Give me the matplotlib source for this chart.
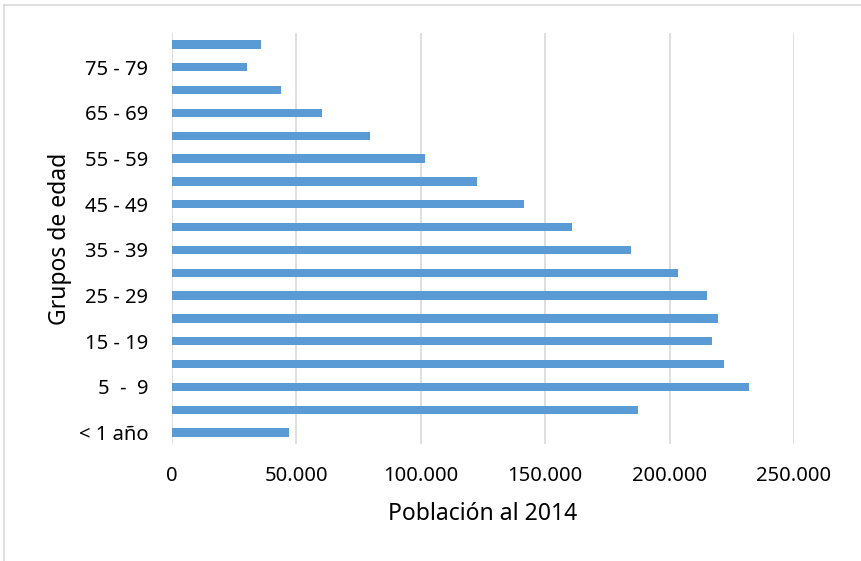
import matplotlib
matplotlib.use("Agg")
import matplotlib.pyplot as plt
from matplotlib.lines import Line2D

categories = ["< 1 año", "1 - 4", "5  -  9", "10 - 14", "15 - 19", "20 - 24",
              "25 - 29", "30 - 34", "35 - 39", "40 - 44", "45 - 49", "50 - 54",
              "55 - 59", "60 - 64", "65 - 69", "70 - 74", "75 - 79", "80 y más"]
poblacion = [47100, 187300, 231900, 221700, 217100, 219500,
             215000, 203200, 184300, 160900, 141600, 122600,
             101500, 79400, 60100, 43700, 30100, 35600]
x_ticks = [0, 50000, 100000, 150000, 200000, 250000]
x_tick_labels = ["0", "50.000", "100.000", "150.000", "200.000", "250.000"]

plt.rcParams['font.family'] = ['Noto Sans', 'DejaVu Sans']

W, H = 861, 561
fig = plt.figure(figsize=(W / 100, H / 100), dpi=100)
ax = fig.add_axes([172 / W, (H - 444) / H, (794 - 172) / W, (444 - 33) / H])

pos = list(range(len(categories)))
ax.barh(pos, poblacion, height=0.36, color="#5B9BD5", zorder=3)

ax.set_xlim(0, 250000)
ax.set_ylim(-0.5, len(categories) - 0.5)
ax.set_xticks(x_ticks)
ax.set_xticklabels(x_tick_labels, fontsize=14.5, color="#000000")
ax.set_yticks(pos)
ax.set_yticklabels([c if i % 2 == 0 else "" for i, c in enumerate(categories)],
                   fontsize=14.5, color="#000000")
ax.tick_params(axis="x", length=0, pad=16)
ax.tick_params(axis="y", length=0, pad=17)
ax.grid(axis="x", color="#D9D9D9", linewidth=1.2, zorder=0)
for s in ax.spines.values():
    s.set_visible(False)

ax.set_xlabel("Población al 2014", fontsize=16.5, labelpad=11)
ax.set_ylabel("Grupos de edad", fontsize=16.5, labelpad=5)

# chart border (Excel chart area)
fig.add_artist(Line2D([3.5 / W, 3.5 / W], [0, (H - 4.5) / H], color="#D9D9D9",
                      linewidth=1.2, transform=fig.transFigure))
fig.add_artist(Line2D([3.5 / W, 1], [(H - 4.5) / H, (H - 4.5) / H], color="#D9D9D9",
                      linewidth=1.2, transform=fig.transFigure))

fig.savefig("out.png", dpi=100)
